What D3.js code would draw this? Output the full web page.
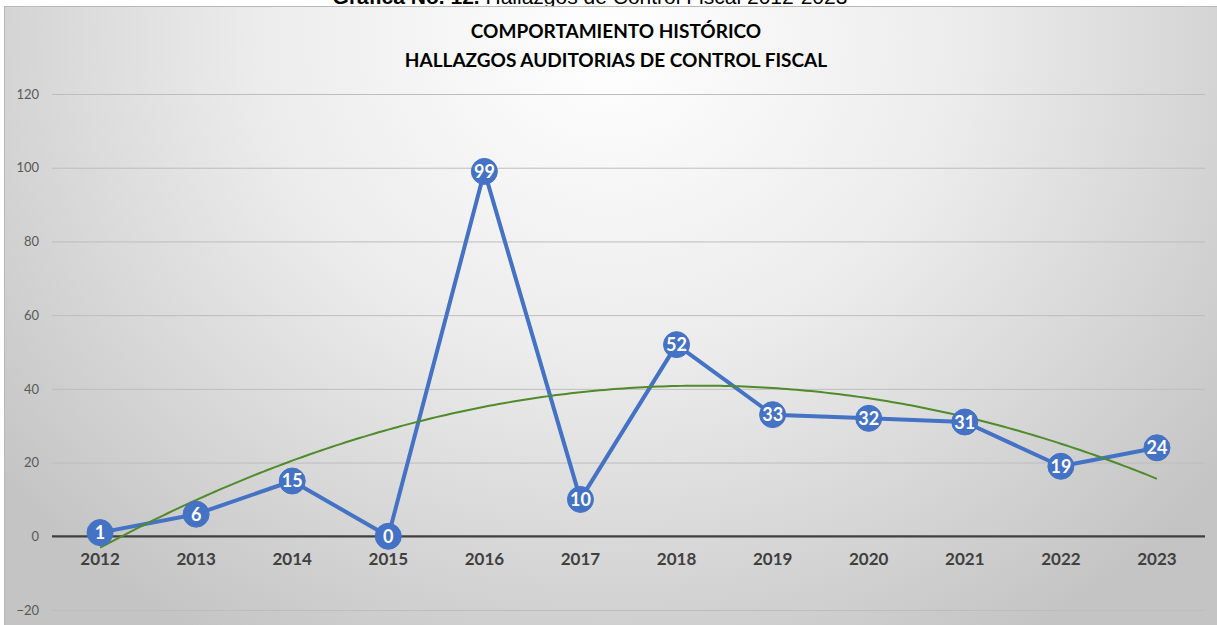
<!DOCTYPE html>
<html>
<head>
<meta charset="utf-8">
<script src="https://cdn.jsdelivr.net/npm/d3@7"></script>
<style>
  html, body { margin: 0; padding: 0; background: #fff; }
  svg { display: block; }
</style>
</head>
<body>
<svg id="chart" width="1217" height="625"></svg>
<script>
// Hallazgos de control fiscal por año
const years = ["2012","2013","2014","2015","2016","2017","2018","2019","2020","2021","2022","2023"];
const hallazgos = [1, 6, 15, 0, 99, 10, 52, 33, 32, 31, 19, 24];
const yTicks = [-20, 0, 20, 40, 60, 80, 100, 120];
const captionBold = "Gráfica No. 12.";
const captionRest = " Hallazgos de Control Fiscal 2012-2023";
const titleLines = ["COMPORTAMIENTO HISTÓRICO", "HALLAZGOS AUDITORIAS DE CONTROL FISCAL"];

const W = 1217, H = 625;
const svg = d3.select("#chart");
const defs = svg.append("defs");

// Background gradient of the chart area
const grad = defs.append("radialGradient")
  .attr("id", "bg").attr("gradientUnits", "userSpaceOnUse")
  .attr("cx", 610).attr("cy", 40).attr("r", 780)
  .attr("gradientTransform", "translate(610,40) scale(1,0.9) translate(-610,-40)");
grad.append("stop").attr("offset", 0).attr("stop-color", "#ffffff");
grad.append("stop").attr("offset", 0.45).attr("stop-color", "#ececec");
grad.append("stop").attr("offset", 1).attr("stop-color", "#c4c4c4");

// Caption above the chart frame (the page clips its upper part)
const cap = svg.append("text")
  .attr("x", 590).attr("y", 4)
  .attr("text-anchor", "middle")
  .style("font-family", "'Liberation Sans', Arial, sans-serif")
  .style("font-size", "21px")
  .attr("fill", "#000");
cap.append("tspan").style("font-weight", "bold").text(captionBold);
cap.append("tspan").text(captionRest);

// Chart frame
svg.append("rect")
  .attr("x", 4.5).attr("y", 6.5).attr("width", W).attr("height", H)
  .attr("fill", "url(#bg)").attr("stroke", "#b8b8b8").attr("stroke-width", 1);

// Title
const title = svg.append("text")
  .attr("text-anchor", "middle")
  .style("font-family", "Lato, 'Open Sans', sans-serif")
  .style("font-weight", "bold")
  .style("font-size", "19px")
  .attr("fill", "#000");
titleLines.forEach((t, i) => {
  title.append("tspan").attr("x", 616).attr("y", 38 + i * 29).text(t);
});

// Scales
const plotL = 52, plotR = 1205;
const x = d3.scaleBand().domain(years).range([plotL, plotR]);
const y = d3.scaleLinear().domain([-20, 120]).range([610, 94]);
const cx = d => x(d) + x.bandwidth() / 2;

// Gridlines
const yAxis = d3.axisLeft(y).tickValues(yTicks).tickSize(-(plotR - plotL)).tickPadding(13);
const gy = svg.append("g").attr("transform", `translate(${plotL},0)`).call(yAxis);
gy.select(".domain").remove();
gy.selectAll(".tick line").attr("stroke", "#bdbdbd").attr("stroke-width", 1);
gy.selectAll(".tick text")
  .style("font-family", "Lato, 'Open Sans', sans-serif")
  .style("font-size", "13px")
  .attr("fill", "#595959");

// Zero baseline
svg.append("line")
  .attr("x1", plotL).attr("x2", plotR)
  .attr("y1", y(0)).attr("y2", y(0))
  .attr("stroke", "#404040").attr("stroke-width", 2.2);

// Category labels
const xAxis = d3.axisBottom(x).tickSize(0).tickPadding(17);
const gx = svg.append("g").attr("transform", `translate(0,${y(0)})`).call(xAxis);
gx.select(".domain").remove();
gx.selectAll(".tick text")
  .style("font-family", "Lato, 'Open Sans', sans-serif")
  .style("font-weight", "bold")
  .style("font-size", "17px")
  .attr("fill", "#404040");

// Series line
const pts = years.map((yr, i) => ({ yr, v: hallazgos[i] }));
svg.append("path")
  .datum(pts)
  .attr("fill", "none")
  .attr("stroke", "#4472c4")
  .attr("stroke-width", 4)
  .attr("stroke-linejoin", "round")
  .attr("d", d3.line().x(d => cx(d.yr)).y(d => y(d.v)));

// Polynomial (order 2) least-squares trendline on the series
function quadFit(xs, ys) {
  let s = [0, 0, 0, 0, 0], t = [0, 0, 0];
  xs.forEach((xv, i) => {
    for (let k = 0; k <= 4; k++) s[k] += Math.pow(xv, k);
    for (let k = 0; k <= 2; k++) t[k] += Math.pow(xv, k) * ys[i];
  });
  const M = [[s[0], s[1], s[2], t[0]], [s[1], s[2], s[3], t[1]], [s[2], s[3], s[4], t[2]]];
  for (let c = 0; c < 3; c++) {
    for (let r = c + 1; r < 3; r++) {
      const f = M[r][c] / M[c][c];
      for (let k = c; k < 4; k++) M[r][k] -= f * M[c][k];
    }
  }
  const coef = [0, 0, 0];
  for (let r = 2; r >= 0; r--) {
    let v = M[r][3];
    for (let k = r + 1; k < 3; k++) v -= M[r][k] * coef[k];
    coef[r] = v / M[r][r];
  }
  return coef;
}
const idx = years.map((_, i) => i + 1);
const [a0, a1, a2] = quadFit(idx, hallazgos);
const xi = d3.scaleLinear().domain([1, years.length]).range([cx(years[0]), cx(years[years.length - 1])]);
const trendPts = d3.range(1, years.length + 0.001, 0.05);
svg.append("path")
  .datum(trendPts)
  .attr("fill", "none")
  .attr("stroke", "#4f8a2b")
  .attr("stroke-width", 2)
  .attr("d", d3.line().x(t => xi(t)).y(t => y(a0 + a1 * t + a2 * t * t)));

// Markers with value labels
const mk = svg.append("g").selectAll("g").data(pts).join("g")
  .attr("transform", d => `translate(${cx(d.yr)},${y(d.v)})`);
mk.append("circle").attr("r", 13).attr("fill", "#4472c4").attr("stroke", "#4472c4");
mk.append("text")
  .attr("text-anchor", "middle").attr("dy", "0.36em")
  .style("font-family", "Lato, 'Open Sans', sans-serif")
  .style("font-weight", "bold")
  .style("font-size", "18px")
  .attr("fill", "#fff")
  .text(d => d.v);
</script>
</body>
</html>
